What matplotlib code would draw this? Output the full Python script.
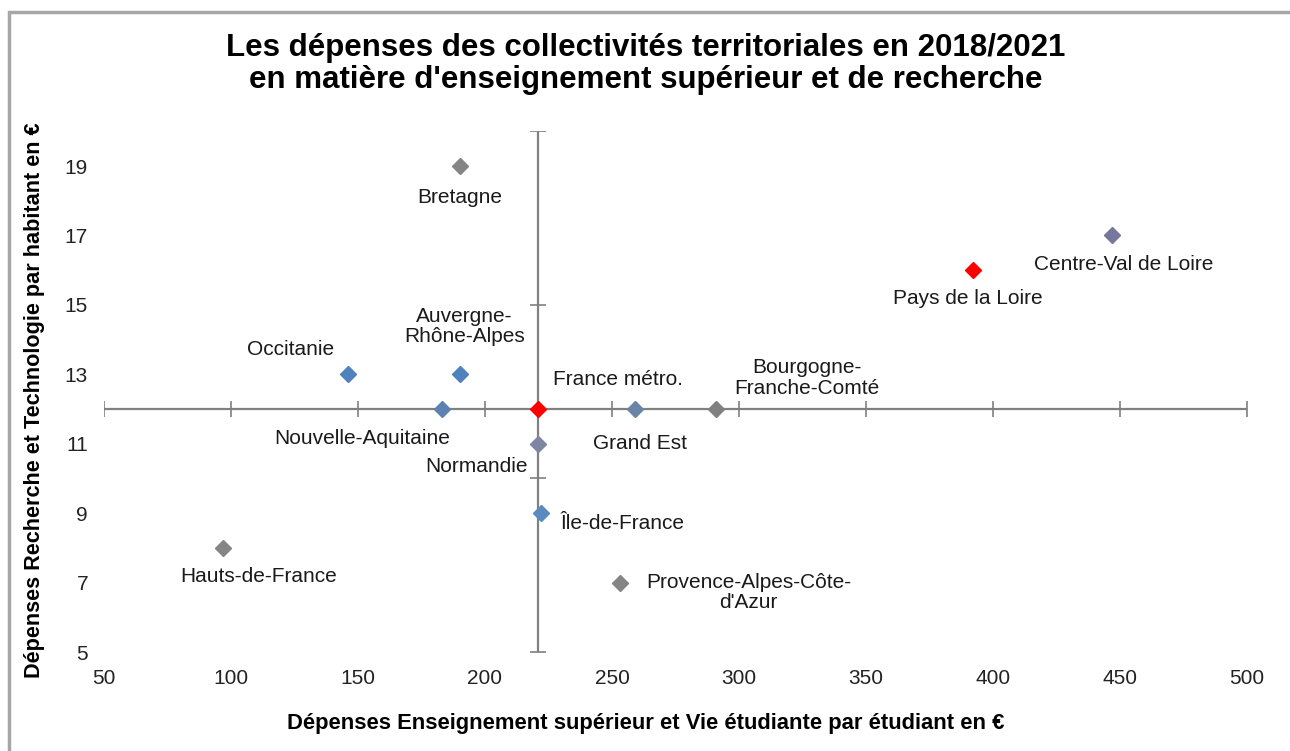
import matplotlib.pyplot as plt
from matplotlib.patches import Rectangle

plt.rcParams['font.family'] = ['Liberation Sans', 'DejaVu Sans']

regions = ['Bretagne', 'Centre-Val de Loire', 'Pays de la Loire', 'Occitanie',
           'Auvergne-\nRhône-Alpes', 'Nouvelle-Aquitaine', 'France métro.',
           'Grand Est', 'Bourgogne-\nFranche-Comté', 'Normandie', 'Île-de-France',
           'Hauts-de-France', 'Provence-Alpes-Côte-\nd\'Azur']
dep_etudiant = [190, 447, 392, 146, 190, 183, 221, 259, 291, 221, 222, 97, 253]
dep_habitant = [19, 17, 16, 13, 13, 12, 12, 12, 12, 11, 9, 8, 7]

x_ticks = [50, 100, 150, 200, 250, 300, 350, 400, 450, 500]
y_ticks = [5, 7, 9, 11, 13, 15, 17, 19]
cross_ticks_y = [5, 10, 15, 20]
france_x = 221
france_y = 12

# style, kept apart from the data
colors = ['#858585', '#75789a', '#ff0000', '#4f81bd', '#4f81bd', '#5b82b0', '#ff0000',
          '#6a84a8', '#808080', '#7f86a4', '#5a8ac0', '#858585', '#858585']
offsets = [(0, -31), (11, -29), (-5, -28), (-57, 25), (5, 48), (-80, -29), (80, 30),
           (5, -34), (91, 31), (-62, -23), (82, -10), (35, -29), (129, -10)]

fig = plt.figure(figsize=(12.9, 7.51), dpi=100)
ax = fig.add_axes([104 / 1290, 1 - 652 / 751, (1247 - 104) / 1290, (652 - 131.3) / 751])
ax.set_xlim(50, 500)
ax.set_ylim(5, 20)
for s in ax.spines.values():
    s.set_visible(False)

axis_col = '#808080'
ax.plot([x_ticks[0], x_ticks[-1]], [france_y, france_y], color=axis_col, lw=1.6, zorder=1)
ax.plot([france_x, france_x], [cross_ticks_y[0], cross_ticks_y[-1]], color=axis_col, lw=1.6, zorder=1)
ax.plot(x_ticks, [france_y] * len(x_ticks), ls='none', marker='|', ms=11, mew=1.2,
        color=axis_col, zorder=1)
ax.plot([france_x] * len(cross_ticks_y), cross_ticks_y, ls='none', marker='_', ms=11, mew=1.2,
        color=axis_col, zorder=1)

for x, y, c in zip(dep_etudiant, dep_habitant, colors):
    ax.plot(x, y, marker='D', ms=8, color=c, mec=c, ls='none', zorder=3)

for name, x, y, off in zip(regions, dep_etudiant, dep_habitant, offsets):
    ax.annotate(name, (x, y), xytext=off, textcoords='offset pixels',
                ha='center', va='center', fontsize=15, color='#1a1a1a',
                linespacing=1.1)

ax.set_xticks(x_ticks)
ax.set_yticks(y_ticks)
ax.tick_params(axis='x', length=0, pad=12.5, labelsize=15, labelcolor='#222222')
ax.tick_params(axis='y', length=0, pad=11.5, labelsize=15, labelcolor='#222222')

fig.text(646 / 1290, 1 - 64 / 751,
         'Les dépenses des collectivités territoriales en 2018/2021\n'
         'en matière d\'enseignement supérieur et de recherche',
         ha='center', va='center', fontsize=22.5, fontweight='bold', linespacing=1.12)
fig.text(646 / 1290, 1 - 724 / 751,
         'Dépenses Enseignement supérieur et Vie étudiante par étudiant en €',
         ha='center', va='center', fontsize=15.8, fontweight='bold')
fig.text(35 / 1290, 1 - 400 / 751,
         'Dépenses Recherche et Technologie par habitant en €',
         ha='center', va='center', rotation=90, fontsize=15.6, fontweight='bold')

fig.add_artist(Rectangle((9 / 1290, -0.05), 1.2, 1 - 12 / 751 + 0.05,
                         transform=fig.transFigure, fill=False, ec='#a6a6a6', lw=2.5))

fig.savefig('out.png', dpi=100)
